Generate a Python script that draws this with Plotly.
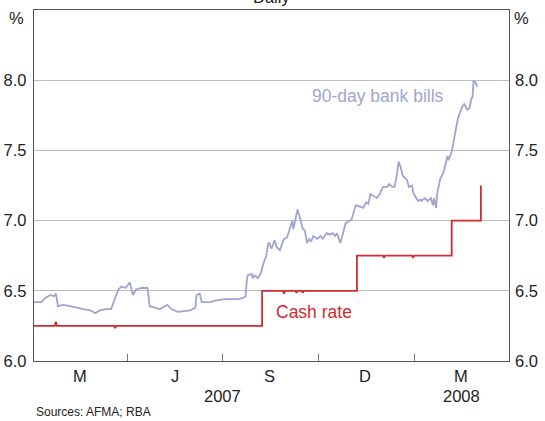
import plotly.graph_objects as go

# ---- data ----
bill_dates = [
    "2007-01-01", "2007-01-08", "2007-01-12", "2007-01-14", "2007-01-17", "2007-01-20", "2007-01-22",
    "2007-01-24", "2007-01-29", "2007-02-05", "2007-02-10", "2007-02-17", "2007-02-24", "2007-03-01",
    "2007-03-05", "2007-03-11", "2007-03-16", "2007-03-20", "2007-03-23", "2007-03-26", "2007-03-30",
    "2007-04-03", "2007-04-06", "2007-04-09", "2007-04-14", "2007-04-20", "2007-04-22", "2007-04-27",
    "2007-05-02", "2007-05-09", "2007-05-13", "2007-05-19", "2007-05-31", "2007-06-05", "2007-06-06",
    "2007-06-09", "2007-06-11", "2007-06-19", "2007-06-24", "2007-07-03", "2007-07-06", "2007-07-16",
    "2007-07-21", "2007-07-23", "2007-07-24", "2007-07-25", "2007-07-29", "2007-07-30", "2007-08-01",
    "2007-08-04", "2007-08-07", "2007-08-09", "2007-08-12", "2007-08-14", "2007-08-15", "2007-08-17",
    "2007-08-18", "2007-08-20", "2007-08-22", "2007-08-25", "2007-08-27", "2007-08-29", "2007-09-01",
    "2007-09-04", "2007-09-06", "2007-09-07", "2007-09-09", "2007-09-11", "2007-09-14", "2007-09-16",
    "2007-09-18", "2007-09-20", "2007-09-22", "2007-09-24", "2007-09-26", "2007-09-30", "2007-10-03",
    "2007-10-05", "2007-10-09", "2007-10-12", "2007-10-15", "2007-10-17", "2007-10-19", "2007-10-22",
    "2007-10-24", "2007-10-27", "2007-10-29", "2007-11-02", "2007-11-03", "2007-11-06", "2007-11-10",
    "2007-11-13", "2007-11-16", "2007-11-18", "2007-11-20", "2007-11-22", "2007-11-26", "2007-11-29",
    "2007-12-02", "2007-12-06", "2007-12-08", "2007-12-11", "2007-12-13", "2007-12-15", "2007-12-17",
    "2007-12-19", "2007-12-21", "2007-12-25", "2007-12-27", "2007-12-30", "2007-12-31", "2008-01-03",
    "2008-01-05", "2008-01-07", "2008-01-08", "2008-01-11", "2008-01-14", "2008-01-17", "2008-01-19",
    "2008-01-20", "2008-01-22", "2008-01-23", "2008-01-26", "2008-01-29", "2008-02-01", "2008-02-02",
    "2008-02-03", "2008-02-06", "2008-02-09", "2008-02-12", "2008-02-16", "2008-02-18", "2008-02-21",
    "2008-02-23", "2008-02-25", "2008-02-26", "2008-02-27", "2008-02-29", "2008-03-01", "2008-03-02",
]
bill_values = [
    6.42, 6.42, 6.45, 6.46, 6.47, 6.46, 6.48,
    6.39, 6.40, 6.39, 6.38, 6.37, 6.36, 6.34,
    6.36, 6.37, 6.37, 6.45, 6.51, 6.53, 6.52,
    6.56, 6.47, 6.51, 6.52, 6.52, 6.39, 6.38,
    6.37, 6.40, 6.37, 6.35, 6.36, 6.38, 6.47,
    6.48, 6.42, 6.42, 6.43, 6.44, 6.44, 6.44,
    6.45, 6.46, 6.55, 6.61, 6.62, 6.59, 6.61,
    6.59, 6.63, 6.69, 6.75, 6.84, 6.84, 6.80,
    6.82, 6.86, 6.81, 6.79, 6.83, 6.87, 6.88,
    6.96, 7.00, 6.94, 7.01, 7.08, 7.00, 6.94,
    6.93, 6.84, 6.87, 6.85, 6.89, 6.87, 6.89,
    6.87, 6.91, 6.90, 6.91, 6.89, 6.91, 6.84,
    6.89, 6.98, 6.99, 7.01, 7.04, 7.11, 7.10,
    7.09, 7.13, 7.12, 7.19, 7.18, 7.16, 7.19,
    7.24, 7.24, 7.26, 7.24, 7.24, 7.31, 7.42,
    7.38, 7.32, 7.29, 7.24, 7.25, 7.20, 7.16,
    7.14, 7.15, 7.14, 7.16, 7.14, 7.16, 7.11,
    7.16, 7.09, 7.19, 7.30, 7.34, 7.45, 7.46,
    7.43, 7.49, 7.61, 7.73, 7.81, 7.83, 7.79,
    7.80, 7.87, 7.88, 8.00, 7.98, 7.96, 7.96,
]

cash_dates = [
    "2007-01-01", "2007-01-21", "2007-01-22", "2007-01-23",
    "2007-03-19", "2007-03-20", "2007-03-21",
    "2007-08-08", "2007-08-08",
    "2007-08-28", "2007-08-29", "2007-08-30",
    "2007-09-09", "2007-09-10", "2007-09-11",
    "2007-09-15", "2007-09-16", "2007-09-17",
    "2007-11-07", "2007-11-07",
    "2007-12-02", "2007-12-03", "2007-12-04",
    "2007-12-30", "2007-12-31", "2008-01-01",
    "2008-02-06", "2008-02-06",
    "2008-03-05", "2008-03-05",
]
cash_values = [
    6.25, 6.25, 6.28, 6.25,
    6.25, 6.235, 6.25,
    6.25, 6.50,
    6.50, 6.48, 6.50,
    6.50, 6.485, 6.50,
    6.50, 6.485, 6.50,
    6.50, 6.75,
    6.75, 6.735, 6.75,
    6.75, 6.735, 6.75,
    6.75, 7.00,
    7.00, 7.25,
]

quarter_ticks = ["2007-04-01", "2007-07-01", "2007-10-01", "2008-01-01"]
month_label_dates = ["2007-02-14", "2007-05-16", "2007-08-15", "2007-11-15", "2008-02-15"]
month_labels = ["M", "J", "S", "D", "M"]
year_label_dates = ["2007-07-01", "2008-02-15"]
year_labels = ["2007", "2008"]
y_ticks = [6.0, 6.5, 7.0, 7.5, 8.0]

x_range = ["2007-01-01", "2008-04-01"]
y_range = [6.0, 8.5]

BLUE = "#9fa5d0"
RED = "#d42a2f"
FONT = "Liberation Sans, Arial, sans-serif"
TXT = "#222222"
TS = 16.5

fig = go.Figure()
fig.add_trace(go.Scatter(x=bill_dates, y=bill_values, mode="lines",
                         line=dict(color=BLUE, width=1.8), hoverinfo="skip"))
fig.add_trace(go.Scatter(x=cash_dates, y=cash_values, mode="lines",
                         line=dict(color=RED, width=1.8), hoverinfo="skip"))
fig.add_trace(go.Scatter(x=[None], y=[None], yaxis="y2", showlegend=False, hoverinfo="skip"))

fig.update_layout(
    width=545, height=421,
    margin=dict(l=34, r=36, t=10, b=60),
    paper_bgcolor="white", plot_bgcolor="white",
    showlegend=False,
    font=dict(family=FONT, size=TS, color=TXT),
    xaxis=dict(
        type="date", range=x_range,
        tickvals=quarter_ticks, showticklabels=False,
        ticks="inside", ticklen=7, tickcolor="#777777", tickwidth=1,
        showgrid=False, zeroline=False,
        showline=True, linecolor="#555555", linewidth=1.2, mirror=True,
    ),
    yaxis=dict(
        range=y_range, tickvals=y_ticks, tickformat=".1f",
        showgrid=True, gridcolor="#b9bdc8", gridwidth=1,
        zeroline=False, ticks="", automargin=False,
        showline=True, linecolor="#555555", linewidth=1.2, mirror=True,
        tickfont=dict(size=TS, color=TXT), ticklabelstandoff=3,
    ),
    yaxis2=dict(
        range=y_range, tickvals=y_ticks, tickformat=".1f",
        overlaying="y", side="right", showgrid=False, zeroline=False,
        ticks="", showline=False, automargin=False,
        tickfont=dict(size=TS, color=TXT), ticklabelstandoff=5,
    ),
)

ann = []
for d, t in zip(month_label_dates, month_labels):
    ann.append(dict(x=d, y=0, xref="x", yref="paper", text=t, showarrow=False,
                    yanchor="top", yshift=-4, font=dict(size=TS, color=TXT)))
for d, t in zip(year_label_dates, year_labels):
    ann.append(dict(x=d, y=0, xref="x", yref="paper", text=t, showarrow=False,
                    yanchor="top", yshift=-24, font=dict(size=TS, color=TXT)))
ann += [
    dict(x=0, y=1, xref="paper", yref="paper", text="%", showarrow=False,
         xanchor="right", yanchor="middle", xshift=-8, yshift=-8, font=dict(size=TS, color=TXT)),
    dict(x=1, y=1, xref="paper", yref="paper", text="%", showarrow=False,
         xanchor="left", yanchor="middle", xshift=3, yshift=-8, font=dict(size=TS, color=TXT)),
    dict(x=0.5, y=1, xref="paper", yref="paper", text="Daily", showarrow=False,
         xanchor="center", yanchor="bottom", yshift=2, font=dict(size=TS, color=TXT)),
    dict(x=0, y=0, xref="paper", yref="paper", text="Sources: AFMA; RBA", showarrow=False,
         xanchor="left", yanchor="top", yshift=-42, font=dict(size=12, color=TXT)),
    dict(x="2007-11-27", y=7.89, xref="x", yref="y", text="90-day bank bills", showarrow=False,
         xanchor="center", yanchor="middle", font=dict(size=17.5, color=BLUE)),
    dict(x="2007-09-27", y=6.35, xref="x", yref="y", text="Cash rate", showarrow=False,
         xanchor="center", yanchor="middle", font=dict(size=17.5, color=RED)),
]
fig.update_layout(annotations=ann)

fig.write_html(
    "out.html",
    config={"displayModeBar": False, "staticPlot": True},
    post_script="document.body.style.margin='0';document.body.style.overflow='hidden';",
)
